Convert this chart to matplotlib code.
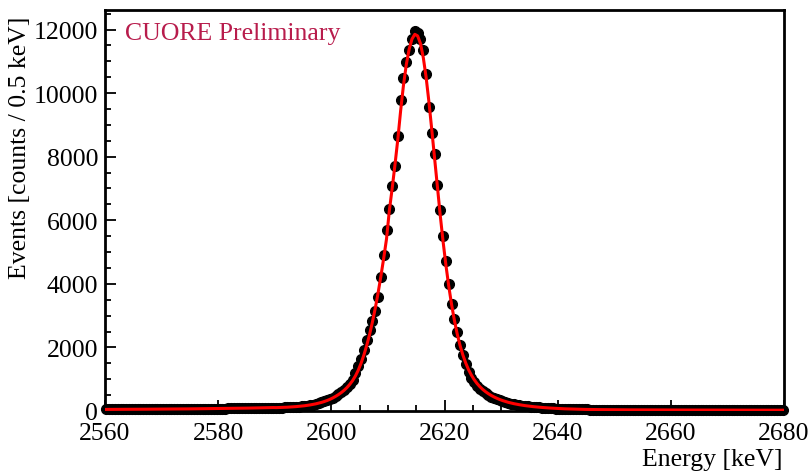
import numpy as np
import matplotlib
matplotlib.use("Agg")
import matplotlib.pyplot as plt
from matplotlib.ticker import MultipleLocator

plt.rcParams['font.family'] = ['Liberation Serif', 'DejaVu Serif']
plt.rcParams['mathtext.fontset'] = 'stix'

# bin centres (0.5 keV bins)
energy = np.arange(2560.25, 2680.0, 0.5)

counts = [
    # 2560-2570
    52, 55, 50, 57, 53, 56, 54, 58, 55, 57, 56, 59, 54, 58, 60, 57, 61, 59, 62, 60,
    # 2570-2580
    63, 61, 64, 62, 66, 65, 63, 67, 66, 68, 65, 69, 70, 68, 71, 72, 70, 74, 73, 75,
    # 2580-2590
    76, 78, 77, 80, 79, 82, 84, 83, 86, 88, 87, 90, 92, 91, 94, 96, 95, 98, 100, 102,
    # 2590-2600
    104, 107, 110, 114, 118, 123, 128, 134, 141, 149,
    158, 170, 185, 202, 222, 245, 272, 303, 338, 378,
    # 2600-2610
    422, 470, 525, 585, 655, 740, 840, 960, 1180, 1400,
    1640, 1930, 2220, 2540, 2840, 3150, 3590, 4230, 4920, 5690,
    # 2610-2620
    6370, 7080, 7720, 8640, 9780, 10480, 10990, 11350, 11700, 11960,
    11880, 11690, 11370, 10610, 9570, 8760, 8090, 7120, 6310, 5490,
    # 2620-2630
    4720, 3990, 3370, 2900, 2470, 2080, 1770, 1480, 1230, 1040,
    905, 790, 700, 620, 558, 500, 450, 405, 365, 332,
    # 2630-2640
    302, 276, 254, 235, 217, 201, 186, 172, 159, 147,
    137, 128, 119, 111, 104, 97, 91, 85, 80, 75,
    # 2640-2650
    71, 68, 64, 62, 59, 57, 55, 53, 51, 50, 48, 47, 46, 45, 44, 43, 42, 42, 41, 40,
    # 2650-2660
    39, 40, 38, 39, 37, 38, 36, 37, 38, 36, 35, 37, 36, 35, 34, 36, 35, 34, 33, 35,
    # 2660-2670
    34, 33, 35, 32, 33, 34, 32, 33, 31, 32, 33, 31, 32, 30, 31, 32, 30, 31, 29, 31,
    # 2670-2680
    30, 29, 31, 30, 28, 30, 29, 28, 30, 29, 27, 29, 28, 29, 27, 28, 26, 28, 27, 26,
]

fit_counts = [
    50, 51, 51, 52, 52, 53, 53, 54, 54, 55, 55, 56, 56, 57, 57, 58, 58, 59, 60, 60,
    61, 62, 62, 63, 64, 64, 65, 66, 67, 67, 68, 69, 70, 71, 72, 73, 74, 75, 76, 77,
    78, 79, 80, 81, 83, 84, 85, 87, 88, 90, 91, 93, 95, 96, 98, 100, 102, 104, 106, 108,
    106, 109, 112, 116, 120, 125, 131, 138, 146, 155,
    165, 177, 191, 207, 225, 246, 270, 298, 330, 367,
    410, 460, 515, 578, 650, 735, 835, 955, 1100, 1280,
    1500, 1760, 2060, 2400, 2790, 3220, 3700, 4230, 4800, 5410,
    6300, 7000, 7750, 8550, 9450, 10250, 10900, 11380, 11700, 11850,
    11800, 11560, 11120, 10500, 9720, 8850, 7940, 7030, 6150, 5330,
    4590, 3930, 3350, 2850, 2420, 2060, 1760, 1510, 1300, 1130,
    985, 865, 765, 680, 608, 545, 490, 442, 400, 362,
    329, 300, 274, 251, 231, 213, 197, 182, 169, 157,
    146, 136, 127, 119, 111, 104, 98, 92, 87, 82,
    77, 73, 69, 66, 63, 60, 57, 55, 53, 51, 49, 48, 46, 45, 44, 43, 42, 41, 40, 39,
    38, 38, 37, 37, 37, 36, 36, 36, 35, 35, 35, 34, 34, 34, 33, 33, 33, 33, 32, 32,
    32, 32, 31, 31, 31, 31, 30, 30, 30, 30, 30, 29, 29, 29, 29, 29, 28, 28, 28, 28,
    28, 28, 27, 27, 27, 27, 27, 27, 27, 26, 26, 26, 26, 26, 26, 26, 26, 25, 25, 25,
]

fig = plt.figure(figsize=(8.12, 4.77), dpi=100)
ax = fig.add_axes([105/812, 1-412/477, (784-105)/812, (412-10.5)/477])

ax.plot(energy, counts, linestyle='none', marker='o', markersize=7,
        color='black', clip_on=False, zorder=2)
ax.plot(energy, fit_counts, color='#ff0000', linewidth=2.2, zorder=3)

ax.set_xlim(2560, 2680)
ax.set_ylim(0, 12630)

ax.xaxis.set_major_locator(MultipleLocator(20))
ax.xaxis.set_minor_locator(MultipleLocator(5))
ax.yaxis.set_major_locator(MultipleLocator(2000))
ax.yaxis.set_minor_locator(MultipleLocator(500))

ax.tick_params(axis='both', which='both', direction='in', top=False, right=False,
               labelsize=18.5, width=1.3)
ax.tick_params(axis='both', which='major', length=8)
ax.tick_params(axis='both', which='minor', length=4.5)
ax.tick_params(axis='x', which='major', pad=8)
ax.tick_params(axis='y', which='major', pad=5)

for s in ax.spines.values():
    s.set_linewidth(2.0)

fig.text(20/812, 1-17/477, 'Events [counts / 0.5 keV]', rotation=90,
         ha='center', va='top', fontsize=18.5)
fig.text(783/812, 1-460/477, 'Energy [keV]', ha='right', va='center', fontsize=18.5)

fig.text(125/812, 1-34/477, 'CUORE Preliminary', ha='left', va='center',
         fontsize=18.5, color='#b81c4c')

fig.savefig('out.png', dpi=100)
